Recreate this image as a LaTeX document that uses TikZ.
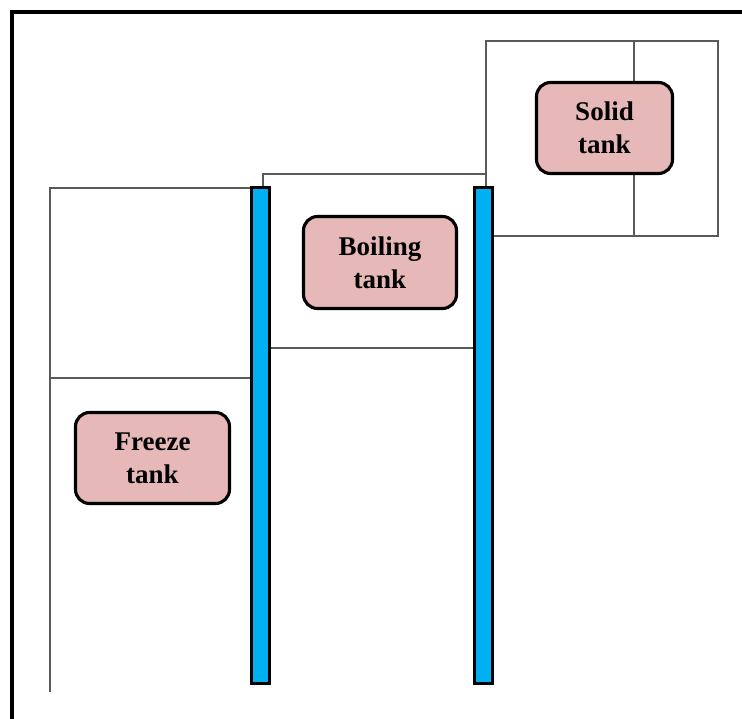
\documentclass[tikz,border=0pt]{standalone}
\usepackage{fontspec}
\setmainfont{Liberation Serif}
\definecolor{tankfill}{HTML}{E6B8B7}
\definecolor{barblue}{HTML}{00B0F0}
\definecolor{thinline}{HTML}{5A5A5A}
\begin{document}
\begin{tikzpicture}[x=1pt,y=-1pt,
  tank/.style={draw=black,line width=3.1pt,fill=tankfill,rounded corners=14pt,
    align=center,inner sep=0pt,font=\bfseries\fontsize{27}{33}\selectfont},
  bar/.style={draw=black,line width=3.2pt,fill=barblue,inner sep=0pt,minimum width=18.5pt},
  thin/.style={draw=thinline,line width=1.3pt}]
\useasboundingbox (0,0) rectangle (742,719);
% outer frame
\draw[line width=3.5pt] (12,740) -- (12,12) -- (760,12);
% solid region
\draw[thin] (486,187) -- (486,41) -- (718,41) -- (718,236) -- (494,236);
\draw[thin] (634,41) -- (634,236);
% boiling region
\draw[thin] (263,187) -- (263,174) -- (486,174);
\draw[thin] (271,348) -- (473,348);
% freeze region
\draw[thin] (50,692) -- (50,188) -- (250,188);
\draw[thin] (50,378) -- (250,378);
% bars
\node[bar,minimum height=496pt] (bar1) at (260.5,435.5) {};
\node[bar,minimum height=496pt] (bar2) at (483.5,435.5) {};
% tanks
\node[tank,minimum width=136pt,minimum height=91pt] (solid) at (604.5,128) {Solid\\tank};
\node[tank,minimum width=153pt,minimum height=92pt] (boil) at (380,262.5) {Boiling\\tank};
\node[tank,minimum width=154pt,minimum height=91pt] (freeze) at (152.5,458) {Freeze\\tank};
\end{tikzpicture}
\end{document}
